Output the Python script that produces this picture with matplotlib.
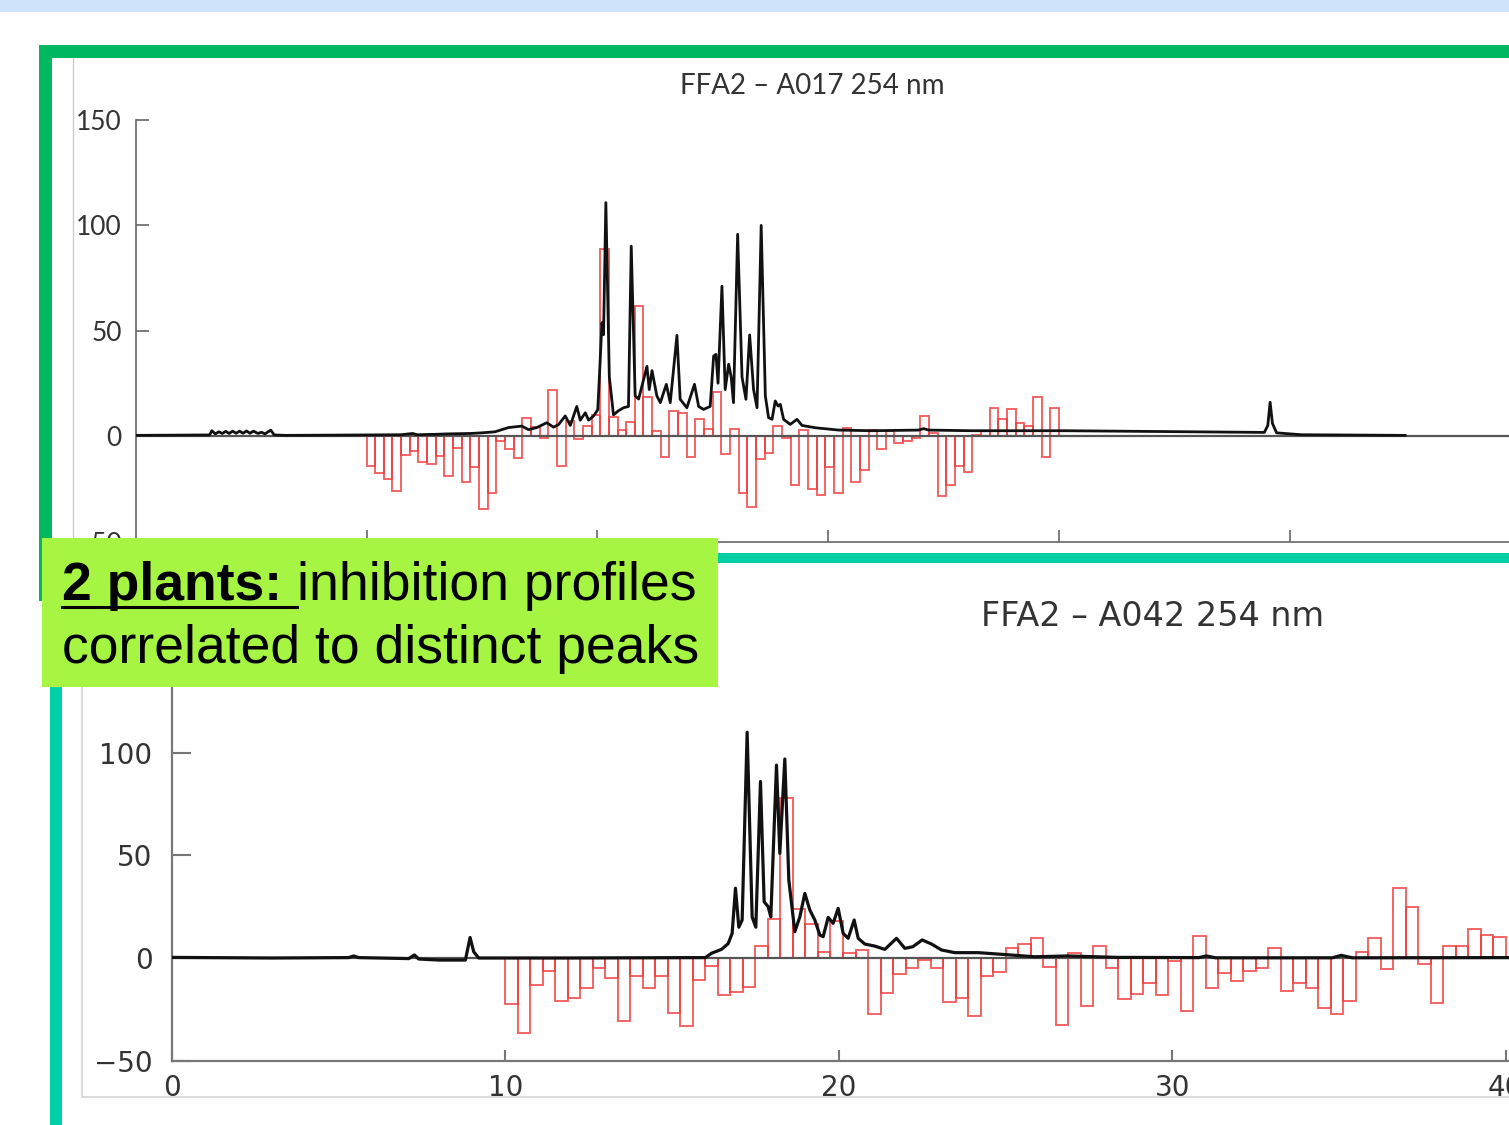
import numpy as np
import matplotlib
matplotlib.use("Agg")
import matplotlib.pyplot as plt
from matplotlib.patches import Rectangle
from matplotlib.lines import Line2D

# ---- data ----
# fraction bins: 80 fractions of 0.375 min between 10 and 40 min
frac_start = np.arange(10, 40, 0.375)
frac_width = 0.375

# FFA2 - A017: inhibition per fraction (%)
a017_inhib = [-14.2, -17.4, -20.5, -26, -9, -7, -12.3, -13.4, -9.5, -19,
              -5.5, -21.8, -14.5, -34.4, -26.9, -2.4, -6.3, -10.3, 8.4, 4.4,
              -0.8, 21.6, -14.2, 7, -1.6, 4.7, 10, 88.5, 9, 3,
              6.8, 61.6, 18.6, 2.4, -10, 12, 11, -10, 8, 3.5,
              21, -8.7, 3.5, -27, -33.5, -11, -8, 4.7, -0.8, -23,
              3, -25, -28, -14.5, -27, 4, -22, -16, 3, -6,
              2.4, -3.5, -2.4, -1, 9.5, 1.6, -28.4, -23, -14, -17,
              0.5, 2.4, 13.4, 8, 12.6, 6, 4.7, 18.5, -9.8, 13.4]

# FFA2 - A042: inhibition per fraction (%)
a042_inhib = [-22.4, -36.7, -13.1, -6.2, -21, -19.3, -14.8, -4.7, -9.9, -30.7,
              -8.8, -14.8, -8.8, -27, -33, -10.7, -4, -18, -16.4, -14,
              6, 18.8, 78, 24, 16.6, 2.8, 18, 2.3, 3.9, -27.3,
              -17.2, -7.8, -5, -1, -5, -21.3, -19.6, -28.2, -8.8, -6.7,
              5, 6.8, 9.6, -4.2, -32.6, 2.6, -23.4, 6, -5, -20,
              -17.5, -12.3, -18.2, -1.3, -25.8, 10.7, -14.4, -7.5, -11.2, -6.2,
              -5, 5, -16, -12.3, -14.4, -24.5, -27.4, -21, 2.8, 9.6,
              -5.5, 34, 25, -3, -21.8, 6, 6, 14, 11.2, 10.4]

# UV 254 nm trace, A017 (time in min, absorbance)
a017_time = [0, 3.2, 3.3, 3.45, 3.6, 3.75, 3.9, 4.05, 4.2, 4.35, 4.5, 4.65, 4.8,
             4.95, 5.1, 5.3, 5.45, 5.6, 5.85, 6.0, 6.5, 10.0, 11.5, 12.0, 12.2,
             13.0, 13.5, 14.5, 15.0, 15.57, 16.15, 16.73, 17.02, 17.38, 17.81,
             18.10, 18.32, 18.61, 18.83, 19.11, 19.26, 19.48, 19.62, 19.84, 20.02,
             20.12, 20.20, 20.27, 20.37, 20.52, 20.70, 20.92, 21.14, 21.35, 21.47,
             21.64, 21.79, 22.15, 22.25, 22.37, 22.58, 22.73, 22.99, 23.16, 23.45,
             23.59, 23.88, 24.21, 24.39, 24.60, 24.89, 25.04, 25.14, 25.23, 25.40,
             25.54, 25.69, 25.80, 25.90, 26.08, 26.27, 26.44, 26.60, 26.77, 26.92,
             27.10, 27.28, 27.42, 27.57, 27.71, 27.83, 27.93, 28.07, 28.36, 28.65,
             28.87, 29.45, 30.46, 31.90, 33.92, 34.14, 34.36, 36.24, 40.28, 48.9,
             49.05, 49.15, 49.25, 49.43, 50.5, 55.0]
a017_abs = [0.3, 0.5, 2.5, 1, 2, 1.2, 2.2, 1.2, 2.3, 1.3, 2.3, 1.3, 2.4,
            1.3, 2.3, 1.2, 1.8, 1.0, 2.8, 0.5, 0.3, 0.5, 0.6, 1.2, 0.6,
            0.8, 1.0, 1.2, 1.5, 2, 4, 4.7, 3, 4, 6.3,
            4.2, 5.4, 9.5, 5, 14, 7.5, 11, 7.5, 9.5, 12.5,
            34.8, 53.7, 48, 110.6, 28, 10, 12, 13.4, 14, 90,
            19, 17.5, 33, 22, 31, 19, 15.8, 24.5, 15.8, 47.7,
            17.4, 13.4, 24.5, 14, 12.6, 14, 37.9, 38.7, 25, 71,
            22, 34, 28, 15.8, 95.6, 28, 17.4, 47.9, 22, 13.4,
            99.8, 19, 8.7, 7.9, 16.6, 14.2, 15, 7.9, 5.5, 7.9,
            5, 3.9, 2.8, 2.5, 2.8, 3.5, 2.8, 2.5, 2.5, 1.7,
            5, 16, 6, 1.5, 0.6, 0.3]

# UV 254 nm trace, A042
a042_time = [0, 3.0, 5.3, 5.45, 5.6, 7.1, 7.27, 7.4, 8.0, 8.8, 8.94, 9.05, 9.2,
             12, 16.0, 16.18, 16.48, 16.68, 16.80, 16.90, 17.00, 17.10, 17.25,
             17.40, 17.51, 17.65, 17.76, 17.88, 17.96, 18.13, 18.23, 18.38, 18.50,
             18.68, 18.83, 18.98, 19.13, 19.28, 19.43, 19.53, 19.68, 19.83, 19.98,
             20.13, 20.28, 20.46, 20.58, 20.78, 21.08, 21.38, 21.73, 21.98, 22.22,
             22.50, 22.78, 23.08, 23.48, 24.18, 24.88, 25.88, 26.87, 28.37, 30.8,
             31.03, 31.3, 34.8, 35.07, 35.4, 40.1]
a042_abs = [0.3, 0, 0.2, 1.0, 0.2, -0.3, 1.5, -0.5, -1.0, -1.0, 10, 3, 0,
            0, 0.2, 2.3, 4.2, 7, 12, 34, 15, 18.5, 110,
            20, 15, 86, 27.4, 25, 20, 94, 51, 97, 38,
            12.8, 20, 31.5, 23.4, 18.5, 11.2, 10.4, 19.8, 16.9, 24.2,
            12, 9.6, 18.5, 9.6, 6.8, 5.8, 4.2, 9.6, 4.7, 5.5,
            8.8, 6.8, 3.9, 2.6, 2.6, 1.8, 0.6, 1.0, 0.3, 0.2,
            1.0, 0.1, 0.1, 1.3, 0.1, 0.2]

top_yticks = [-50, 0, 50, 100, 150]
top_ylabels = ['\u221250', '0', '50', '100', '150']
bot_yticks = [-50, 0, 50, 100]
bot_ylabels = ['\u221250', '0', '50', '100']
top_xticks = [10, 20, 30, 40, 50]
bot_xticks = [0, 10, 20, 30, 40]

RED = '#f03c3c'
W, H = 1509, 1125


def fx(px):
    return px / W


def fy(py):
    return 1 - py / H


def px_rect(x0, y0, x1, y1, color, z=1):
    r = Rectangle((fx(x0), fy(y1)), fx(x1) - fx(x0), fy(y0) - fy(y1),
                  transform=fig.transFigure, facecolor=color,
                  edgecolor='none', zorder=z)
    fig.add_artist(r)


fig = plt.figure(figsize=(W / 100, H / 100), dpi=100)
fig.patch.set_facecolor('white')

### top chart (A017)
ax1 = fig.add_axes([fx(135.7), fy(541.5), 1 - fx(135.7), fy(119.5) - fy(541.5)])
ax1.bar(frac_start, a017_inhib, width=frac_width, align='edge', fill=False,
        edgecolor=RED, linewidth=1.3, alpha=0.85)
ax1.axhline(0, color='#555555', lw=1.6, zorder=1)
ax1.plot(a017_time, a017_abs, color='#111111', lw=2.0, zorder=3)
ax1.set_xlim(0, 59.5)
ax1.set_ylim(-50, 150)
ax1.set_xticks(top_xticks)
ax1.set_xticklabels([])
ax1.set_yticks(top_yticks, top_ylabels,
               fontfamily='Lato', fontsize=19, color='#333333')
ax1.tick_params(direction='in', length=9, width=1.2, color='#666666', pad=10)
for s in ['top', 'right']:
    ax1.spines[s].set_visible(False)
for s in ['left', 'bottom']:
    ax1.spines[s].set_color('#666666')
    ax1.spines[s].set_linewidth(1.2)
fig.text(fx(812), fy(86), 'FFA2 \u2013 A017 254 nm', ha='center', va='center',
         fontfamily='Lato', fontsize=20, color='#333333')

### bottom chart (A042)
ax2 = fig.add_axes([fx(172), fy(1060.6), 1 - fx(172), fy(650.2) - fy(1060.6)])
ax2.bar(frac_start, a042_inhib, width=frac_width, align='edge', fill=False,
        edgecolor=RED, linewidth=1.3, alpha=0.85)
ax2.axhline(0, color='#555555', lw=1.6, zorder=1)
ax2.plot(a042_time, a042_abs, color='#111111', lw=2.3, zorder=3)
ax2.set_xlim(0, 40.1)
ax2.set_ylim(-50, 150)
ax2.set_xticks(bot_xticks, [str(t) for t in bot_xticks],
               fontfamily='DejaVu Sans', fontsize=20, color='#333333')
ax2.set_yticks(bot_yticks, bot_ylabels,
               fontfamily='DejaVu Sans', fontsize=20, color='#333333')
ax2.tick_params(axis='y', direction='in', length=14, width=1.5, color='#777777', pad=14)
ax2.tick_params(axis='x', direction='in', length=8, width=1.5, color='#777777', pad=10)
for s in ['top', 'right']:
    ax2.spines[s].set_visible(False)
for s in ['left', 'bottom']:
    ax2.spines[s].set_color('#777777')
    ax2.spines[s].set_linewidth(1.6)
fig.text(fx(1153), fy(617), 'FFA2 \u2013 A042 254 nm', ha='center', va='center',
         fontfamily='DejaVu Sans', fontsize=24, color='#333333')

### slide decoration
px_rect(0, 0, W, 12, '#cde4fa')
# faint screenshot borders
fig.add_artist(Line2D([fx(73), fx(73)], [fy(58), fy(545)], transform=fig.transFigure,
                      color='#cccccc', lw=1))
fig.add_artist(Line2D([fx(82), fx(82), fx(W)], [fy(687), fy(1097), fy(1097)],
                      transform=fig.transFigure, color='#d4d4d4', lw=1.2))
# green frame (top) and teal frame (bottom)
px_rect(39, 45, W, 58, '#00b85f')
px_rect(39, 45, 52, 601, '#00b85f')
px_rect(50, 553, W, 563, '#00cfa6')
px_rect(50, 553, 62, H, '#00cfa6')

# callout box
px_rect(42, 538, 718, 687, '#a6f543', z=5)
fs = 38.5
t_bold = fig.text(fx(62), fy(600), '2 plants:', ha='left', va='baseline',
                  fontfamily='Liberation Sans', fontweight='bold', fontsize=fs,
                  color='black', zorder=6)
fig.canvas.draw()
bb = t_bold.get_window_extent(fig.canvas.get_renderer())
gap = 0.278 * fs * 100 / 72
fig.add_artist(Line2D([bb.x0 / W, (bb.x1 + gap) / W], [fy(607), fy(607)],
                      transform=fig.transFigure, color='black', lw=2.2, zorder=6))
fig.text((bb.x1 + gap) / W, fy(600), 'inhibition profiles', ha='left', va='baseline',
         fontfamily='Liberation Sans', fontsize=fs, color='black', zorder=6)
fig.text(fx(62), fy(663), 'correlated to distinct peaks', ha='left', va='baseline',
         fontfamily='Liberation Sans', fontsize=fs, color='black', zorder=6)

fig.savefig('out.png', dpi=100)
